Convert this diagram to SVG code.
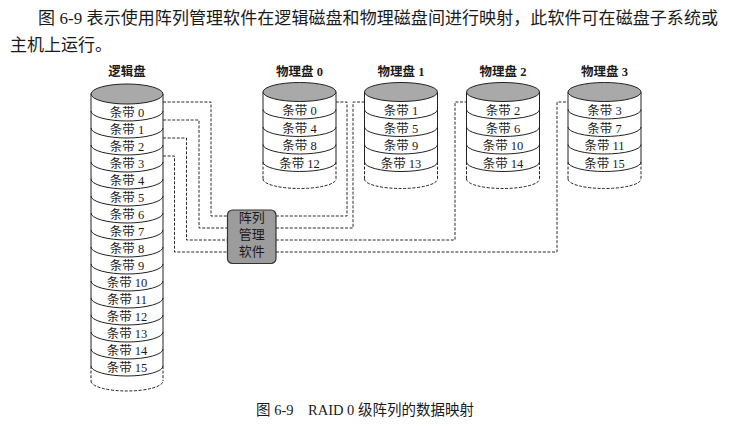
<svg xmlns="http://www.w3.org/2000/svg" width="731" height="434" viewBox="0 0 731 434">
<style>
text{font-family:"Liberation Serif","Noto Sans CJK SC",serif;fill:#1a1a1a}
.para{font-size:17px}
.lbl{font-size:12.5px;text-anchor:middle;dominant-baseline:central;font-weight:bold}
.st{font-size:12.5px;text-anchor:middle;dominant-baseline:central}
.box{font-size:13px;text-anchor:middle;dominant-baseline:central}
.cap{font-size:14.5px;text-anchor:middle;dominant-baseline:central}
.w{fill:none;stroke:#222;stroke-width:1}
.d{fill:none;stroke:#222;stroke-width:1;stroke-dasharray:3 1.6}
.top{fill:#a9a9a9;stroke:#222;stroke-width:1}
.con{fill:none;stroke:#2a2a2a;stroke-width:1;stroke-dasharray:3 1.6}
</style>
<rect width="731" height="434" fill="#fff"/>
<text class="para" x="38" y="24" textLength="680" lengthAdjust="spacing">图 6-9 表示使用阵列管理软件在逻辑磁盘和物理磁盘间进行映射，此软件可在磁盘子系统或</text>
<text class="para" x="10" y="51">主机上运行。</text>

<g id="logical-disk">
<text class="lbl" x="127" y="72">逻辑盘</text>
<path class="w" d="M91 94V366M163 94V366"/>
<path class="d" d="M91 366V381M163 366V381M91 381A36 10 0 0 0 163 381"/>
<path class="w" d="M91 111A36 10 0 0 0 163 111M91 128A36 10 0 0 0 163 128M91 145A36 10 0 0 0 163 145M91 162A36 10 0 0 0 163 162M91 179A36 10 0 0 0 163 179M91 196A36 10 0 0 0 163 196M91 213A36 10 0 0 0 163 213M91 230A36 10 0 0 0 163 230M91 247A36 10 0 0 0 163 247M91 264A36 10 0 0 0 163 264M91 281A36 10 0 0 0 163 281M91 298A36 10 0 0 0 163 298M91 315A36 10 0 0 0 163 315M91 332A36 10 0 0 0 163 332M91 349A36 10 0 0 0 163 349M91 366A36 10 0 0 0 163 366"/>
<ellipse class="top" cx="127" cy="94" rx="36" ry="10"/>
<text class="st" x="127" y="112.5">条带 0</text>
<text class="st" x="127" y="129.5">条带 1</text>
<text class="st" x="127" y="146.5">条带 2</text>
<text class="st" x="127" y="163.5">条带 3</text>
<text class="st" x="127" y="180.5">条带 4</text>
<text class="st" x="127" y="197.5">条带 5</text>
<text class="st" x="127" y="214.5">条带 6</text>
<text class="st" x="127" y="231.5">条带 7</text>
<text class="st" x="127" y="248.5">条带 8</text>
<text class="st" x="127" y="265.5">条带 9</text>
<text class="st" x="127" y="282.5">条带 10</text>
<text class="st" x="127" y="299.5">条带 11</text>
<text class="st" x="127" y="316.5">条带 12</text>
<text class="st" x="127" y="333.5">条带 13</text>
<text class="st" x="127" y="350.5">条带 14</text>
<text class="st" x="127" y="367.5">条带 15</text>
</g>

<defs>
<g id="pbody">
<path class="w" d="M-36.5 92V162M36.5 92V162"/>
<path class="d" d="M-36.5 162V179M36.5 162V179M-36.5 179A36.5 9.5 0 0 0 36.5 179"/>
<path class="w" d="M-36.5 109.5A36.5 9.5 0 0 0 36.5 109.5M-36.5 127A36.5 9.5 0 0 0 36.5 127M-36.5 144.5A36.5 9.5 0 0 0 36.5 144.5M-36.5 162A36.5 9.5 0 0 0 36.5 162"/>
<ellipse class="top" cx="0" cy="92" rx="36.5" ry="9.5"/>
</g>
</defs>

<g id="physical-disk-0">
<use href="#pbody" x="299.5"/>
<text class="lbl" x="299.5" y="72">物理盘 0</text>
<text class="st" x="299.5" y="111">条带 0</text>
<text class="st" x="299.5" y="128.5">条带 4</text>
<text class="st" x="299.5" y="146">条带 8</text>
<text class="st" x="299.5" y="163.5">条带 12</text>
</g>
<g id="physical-disk-1">
<use href="#pbody" x="401"/>
<text class="lbl" x="401" y="72">物理盘 1</text>
<text class="st" x="401" y="111">条带 1</text>
<text class="st" x="401" y="128.5">条带 5</text>
<text class="st" x="401" y="146">条带 9</text>
<text class="st" x="401" y="163.5">条带 13</text>
</g>
<g id="physical-disk-2">
<use href="#pbody" x="503"/>
<text class="lbl" x="503" y="72">物理盘 2</text>
<text class="st" x="503" y="111">条带 2</text>
<text class="st" x="503" y="128.5">条带 6</text>
<text class="st" x="503" y="146">条带 10</text>
<text class="st" x="503" y="163.5">条带 14</text>
</g>
<g id="physical-disk-3">
<use href="#pbody" x="604.5"/>
<text class="lbl" x="604.5" y="72">物理盘 3</text>
<text class="st" x="604.5" y="111">条带 3</text>
<text class="st" x="604.5" y="128.5">条带 7</text>
<text class="st" x="604.5" y="146">条带 11</text>
<text class="st" x="604.5" y="163.5">条带 15</text>
</g>

<g id="connectors">
<path class="con" d="M163 102H211V216H227.5"/>
<path class="con" d="M163 120H199V228H227.5"/>
<path class="con" d="M163 138H186.5V240H227.5"/>
<path class="con" d="M163 156H174.5V252H227.5"/>
<path class="con" d="M276 216H347V102H336"/>
<path class="con" d="M276 228H353V102H364.5"/>
<path class="con" d="M276 240H455V102H466.5"/>
<path class="con" d="M276 252H557V102H568"/>
</g>

<g id="array-software">
<rect x="227.5" y="210" width="48.5" height="53.5" rx="5" fill="#9c9c9c" stroke="#333" stroke-width="1.2"/>
<text class="box" x="251.7" y="217">阵列</text>
<text class="box" x="251.7" y="234">管理</text>
<text class="box" x="251.7" y="251">软件</text>
</g>

<text class="cap" x="365" y="410">图 6-9　RAID 0 级阵列的数据映射</text>
</svg>
